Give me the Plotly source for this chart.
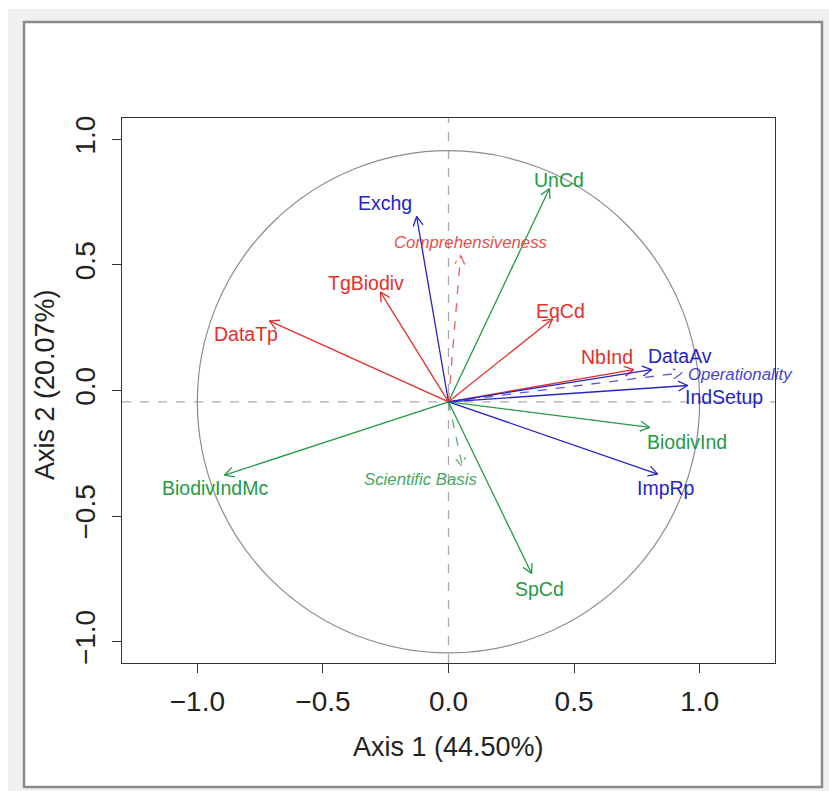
import math
import plotly.graph_objects as go

# ---------------- data ----------------
names = ["UnCd", "Exchg", "Comprehensiveness", "TgBiodiv", "DataTp", "EqCd",
         "NbInd", "DataAv", "Operationality", "IndSetup", "BiodivInd", "ImpRp",
         "BiodivIndMc", "Scientific Basis", "SpCd"]
x_end = [0.402, -0.127, 0.048, -0.271, -0.713, 0.414,
         0.737, 0.809, 0.932, 0.952, 0.801, 0.833,
         -0.892, 0.056, 0.331]
y_end = [0.804, 0.693, 0.540, 0.392, 0.277, 0.285,
         0.083, 0.083, 0.071, 0.020, -0.147, -0.333,
         -0.337, -0.305, -0.729]
group = ["green", "blue", "red", "red", "red", "red",
         "red", "blue", "blue", "blue", "green", "blue",
         "green", "green", "green"]
composite = [False, False, True, False, False, False,
             False, False, True, False, False, False,
             False, True, False]
origin = (0.0, -0.045)
tick_vals = [-1.0, -0.5, 0.0, 0.5, 1.0]
tick_text = ["\u22121.0", "\u22120.5", "0.0", "0.5", "1.0"]
x_title = "Axis 1 (44.50%)"
y_title = "Axis 2 (20.07%)"

# ---------------- styles ----------------
COL = {"red": "#e4302c", "blue": "#2424c8", "green": "#259a45"}
# label offsets in pixels (dx, dy up)
label_shift = {
    "UnCd": (10, 9), "Exchg": (-32, 13), "Comprehensiveness": (10, 12),
    "TgBiodiv": (-14, 9), "DataTp": (-23, -13), "EqCd": (8, 8),
    "NbInd": (-27, 13), "DataAv": (28, 14), "Operationality": (58, -2),
    "IndSetup": (36, -12), "BiodivInd": (37, -15), "ImpRp": (8, -14),
    "BiodivIndMc": (-9, -13), "Scientific Basis": (-42, -12), "SpCd": (8, -15),
}
FONT = "Liberation Sans, Arial, sans-serif"
W, H = 829, 791
L, R, T, B = 122, 775, 118, 663


def px(xs):
    return (xs - L) / (R - L)


def py(ys):
    return (B - ys) / (B - T)


fig = go.Figure()

# arrows
head_len = 0.042
ang = math.radians(28)
for n, xe, ye, g, comp in zip(names, x_end, y_end, group, composite):
    dx, dy = xe - origin[0], ye - origin[1]
    d = math.hypot(dx, dy)
    ux, uy = dx / d, dy / d
    hx, hy = [], []
    for s in (1, -1):
        ca, sa = math.cos(s * ang), math.sin(s * ang)
        rx = ux * ca - uy * sa
        ry = ux * sa + uy * ca
        hx.append(xe - head_len * rx)
        hy.append(ye - head_len * ry)
    xs = [origin[0], xe, None, hx[0], xe, hx[1]]
    ys = [origin[1], ye, None, hy[0], ye, hy[1]]
    fig.add_trace(go.Scatter(
        x=xs, y=ys, mode="lines", hoverinfo="skip", showlegend=False,
        line=dict(color=COL[g], width=1.3, dash="dash" if comp else "solid"),
        opacity=0.75 if comp else 1.0,
    ))

annotations = []
for n, xe, ye, g, comp in zip(names, x_end, y_end, group, composite):
    sx, sy = label_shift[n]
    annotations.append(dict(
        x=xe, y=ye, xref="x", yref="y", text=n, showarrow=False,
        xshift=sx, yshift=sy, xanchor="center", yanchor="middle",
        font=dict(family=FONT, size=16.8 if comp else 19.5, color=COL[g],
                  style="italic" if comp else "normal"),
        opacity=0.85 if comp else 1.0,
    ))

annotations.append(dict(x=px(449), y=py(747), xref="paper", yref="paper",
                        text=x_title, showarrow=False, xanchor="center",
                        yanchor="middle", font=dict(family=FONT, size=27, color="#222")))
annotations.append(dict(x=px(45), y=py(385), xref="paper", yref="paper",
                        text=y_title, showarrow=False, xanchor="center",
                        yanchor="middle", textangle=-90,
                        font=dict(family=FONT, size=27, color="#222")))

shapes = [
    dict(type="rect", xref="paper", yref="paper", x0=px(8), x1=px(829),
         y0=py(9), y1=py(791), fillcolor="#f0f0f0", line=dict(width=0), layer="below"),
    dict(type="rect", xref="paper", yref="paper", x0=px(24), x1=px(822),
         y0=py(22), y1=py(787), fillcolor="white",
         line=dict(color="#8a8a8a", width=2.5), layer="below"),
    dict(type="circle", xref="x", yref="y", x0=origin[0] - 1, x1=origin[0] + 1,
         y0=origin[1] - 1, y1=origin[1] + 1, line=dict(color="#8c8c8c", width=1.2),
         layer="below"),
    dict(type="line", xref="paper", yref="y", x0=0, x1=1, y0=origin[1], y1=origin[1],
         line=dict(color="#aaaaaa", width=1.3, dash="dash"), layer="below"),
    dict(type="line", xref="x", yref="paper", x0=origin[0], x1=origin[0], y0=0, y1=1,
         line=dict(color="#aaaaaa", width=1.3, dash="dash"), layer="below"),
]

axis_common = dict(
    showgrid=False, zeroline=False, showline=True, mirror=True,
    linecolor="#333333", linewidth=1.2, ticks="outside", ticklen=9,
    tickcolor="#333333", tickwidth=1.2, tickvals=tick_vals, ticktext=tick_text,
    tickfont=dict(family=FONT, size=28, color="#222"),
)

fig.update_layout(
    width=W, height=H,
    margin=dict(l=L, r=W - R, t=T, b=H - B),
    paper_bgcolor="white", plot_bgcolor="rgba(0,0,0,0)",
    xaxis=dict(range=[-1.3, 1.3], ticklabelstandoff=4, **axis_common),
    yaxis=dict(range=[-1.085, 1.085], tickangle=-90, ticklabelstandoff=6, **axis_common),
    shapes=shapes, annotations=annotations,
)

fig.write_html(
    "out.html",
    config={"displayModeBar": False},
    post_script="document.body.style.margin='0';document.body.style.overflow='hidden';",
)
